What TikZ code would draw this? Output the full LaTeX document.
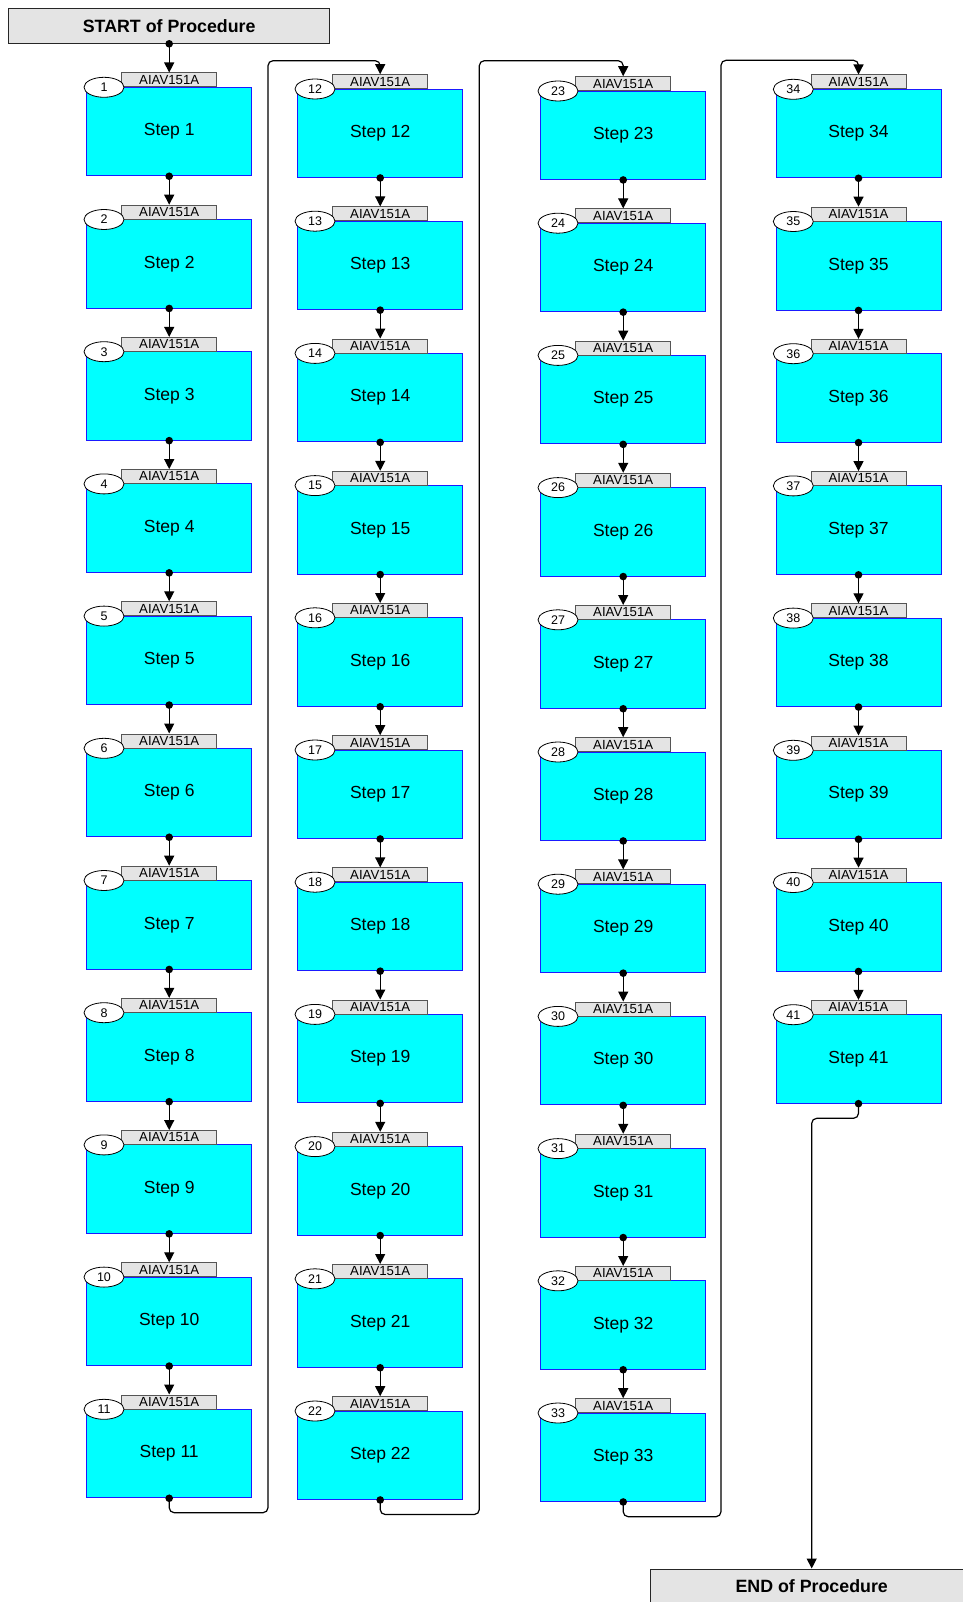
\documentclass[tikz,border=0pt]{standalone}
\usepackage{fontspec}
\setmainfont{Liberation Sans}
\usetikzlibrary{arrows.meta,shapes.geometric}
\definecolor{tagfill}{HTML}{E4E4E4}
\definecolor{tagdraw}{HTML}{555555}
\definecolor{stepfill}{HTML}{00FFFF}
\definecolor{stepdraw}{HTML}{1A1AFF}
\begin{document}
\begin{tikzpicture}[x=1pt,y=-1pt,
  stepbox/.style={draw=stepdraw, fill=stepfill, minimum width=165pt, minimum height=88.5pt, inner sep=0pt, line width=0.9pt, font=\fontsize{17.5}{20}\selectfont},
  tagbox/.style={draw=tagdraw, fill=tagfill, minimum width=95pt, minimum height=14pt, inner sep=0pt, line width=0.8pt, font=\fontsize{13.2}{14}\selectfont},
  numell/.style={ellipse, draw=black, fill=white, minimum width=40pt, minimum height=20pt, inner sep=0pt, line width=0.8pt, font=\fontsize{12.5}{13}\selectfont},
  termbox/.style={draw=black!85, fill=tagfill, minimum width=321.5pt, minimum height=35pt, inner sep=0pt, line width=1pt, font=\bfseries\fontsize{17.8}{20}\selectfont},
  flow/.style={-{Triangle[length=10pt,width=10pt]}, line width=1.2pt, rounded corners=5pt}
]
\useasboundingbox (0,0) rectangle (962,1602);
\node[termbox] (start) at (169.2,25.8) {START of Procedure};
\node[termbox] (end) at (811.7,1586.5) {END of Procedure};
\foreach \i in {1,...,41}{
  \pgfmathtruncatemacro\c{int((\i-1)/11)}
  \pgfmathtruncatemacro\r{\i-1-11*\c}
  \pgfmathsetmacro\L{{86.7,297.7,540.7,776}[\c]}
  \pgfmathsetmacro\T{{87.3,89,91,89.3}[\c]+132.2*\r}
  \node[stepbox] (s\i) at (\L+82.5,\T+44.25) {Step \i};
  \node[tagbox, anchor=south] (t\i) at (\L+82.5,\T) {AIAV151A};
  \node[numell] (e\i) at (\L+17.3,\T) {\i};
}
\coordinate (b1) at (268,1512.7);
\coordinate (u1) at (268,60.7);
\coordinate (b2) at (479.3,1514.5);
\coordinate (u2) at (479.3,60.7);
\coordinate (b3) at (721,1516.7);
\coordinate (u3) at (721,60.3);
\coordinate (c4) at (811.7,1118.3);
\draw[flow] (start.south) -- (t1.north);
\foreach \i in {1,...,40}{
  \pgfmathtruncatemacro\m{mod(\i,11)}
  \pgfmathtruncatemacro\j{\i+1}
  \ifnum\m>0
    \draw[flow] (s\i.south) -- (t\j.north);
  \fi
}
\draw[flow] (s11.south) |- (b1) -- (u1) -| (t12.north);
\draw[flow] (s22.south) |- (b2) -- (u2) -| (t23.north);
\draw[flow] (s33.south) |- (b3) -- (u3) -| (t34.north);
\draw[flow] (s41.south) |- (c4) -- (end.north);
\fill (start.south) circle (3.8pt);
\foreach \i in {1,...,41}{
  \fill (s\i.south) circle (3.8pt);
}
\end{tikzpicture}
\end{document}
